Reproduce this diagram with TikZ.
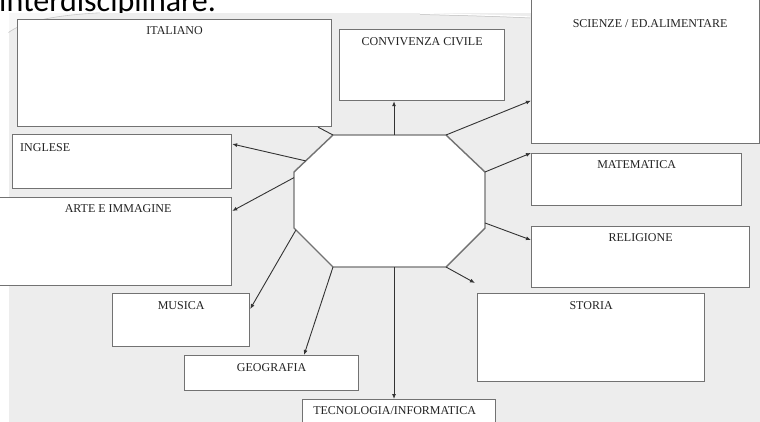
\documentclass[tikz,border=0pt]{standalone}
\usepackage{fontspec}
\setmainfont{Liberation Serif}
\newfontfamily\titlefont{Carlito}
\usetikzlibrary{arrows.meta,calc}
\definecolor{bg}{HTML}{EDEDED}
\definecolor{boxline}{HTML}{727272}
\definecolor{arrline}{HTML}{333333}
\definecolor{txt}{HTML}{222222}
\begin{document}
\begin{tikzpicture}[x=1pt,y=-1pt,
  box/.style={draw=boxline, line width=1.2pt, fill=white, rectangle, inner sep=0pt, anchor=north west},
  lbl/.style={anchor=base, text=txt, font=\fontsize{12}{14}\selectfont, inner sep=0pt},
  arr/.style={draw=arrline, line width=0.9pt, -{Latex[length=5pt,width=4pt]}},
  link/.style={draw=arrline, line width=0.9pt},
  octa/.style={draw=boxline, line width=1.4pt, fill=white, line join=miter}]
\useasboundingbox (0,0) rectangle (760,421);
\clip (0,0) rectangle (760,421);
% slide title (cut off at the top, as in the reference)
\node[anchor=base west, inner sep=0pt, font=\titlefont\fontsize{32}{36}\selectfont, text=black] (title) at (-1,11) {interdisciplinare.};
% grey slide area
\fill[bg] (8.5,12.5) rectangle (762,425);
\fill[white, opacity=0.6] (8.5,12.5) -- (100,12.5) .. controls (50,15) and (22,22) .. (8.5,32) -- cycle;
\draw[black!22, line width=0.6pt] (100,12.8) .. controls (50,15.5) and (22,22.5) .. (8.5,32.5);
\draw[white, line width=1.2pt] (420,13.5) .. controls (460,14.5) and (500,15.5) .. (530,17);
\draw[black!25, line width=0.5pt] (420,14.5) .. controls (460,15.5) and (500,16.5) .. (530,18);
% boxes
\node[box, minimum width=314pt, minimum height=107pt] (ita) at (17,19) {};
\node[box, minimum width=165pt, minimum height=71pt] (conv) at (339,29) {};
\node[box, minimum width=228pt, minimum height=148pt] (sci) at (531,-5) {};
\node[box, minimum width=219pt, minimum height=54pt] (ingl) at (12,134) {};
\node[box, minimum width=236pt, minimum height=88pt] (arte) at (-5,197) {};
\node[box, minimum width=137pt, minimum height=53pt] (mus) at (112,293) {};
\node[box, minimum width=174pt, minimum height=35pt] (geo) at (184,355) {};
\node[box, minimum width=193pt, minimum height=40pt] (tec) at (302,399) {};
\node[box, minimum width=210pt, minimum height=52pt] (mat) at (531,153) {};
\node[box, minimum width=218pt, minimum height=61pt] (rel) at (531,226) {};
\node[box, minimum width=227pt, minimum height=88pt] (sto) at (477,293) {};
% labels
\node[lbl] at ([yshift=-15pt]ita.north) {ITALIANO};
\node[lbl] at ([yshift=-16pt]conv.north) {CONVIVENZA CIVILE};
\node[lbl] at ([xshift=4.5pt,yshift=-32.5pt]sci.north) {SCIENZE / ED.ALIMENTARE};
\node[lbl, anchor=base west] at ([xshift=8pt,yshift=-17pt]ingl.north west) {INGLESE};
\node[lbl] at ([xshift=4.5pt,yshift=-15.5pt]arte.north) {ARTE E IMMAGINE};
\node[lbl] at ([yshift=-16.5pt]mus.north) {MUSICA};
\node[lbl] at ([yshift=-16pt]geo.north) {GEOGRAFIA};
\node[lbl] at ([xshift=-4.5pt,yshift=-15pt]tec.north) {TECNOLOGIA/INFORMATICA};
\node[lbl] at ([yshift=-15pt]mat.north) {MATEMATICA};
\node[lbl] at ([yshift=-15pt]rel.north) {RELIGIONE};
\node[lbl] at ([yshift=-16pt]sto.north) {STORIA};
% central octagon
\draw[octa] (333,135) coordinate (o1) -- (446,135) coordinate (o2) -- (485,172) coordinate (o3)
  -- (485,228) coordinate (o4) -- (446,267) coordinate (o5) -- (333,267) coordinate (o6)
  -- (294,228) coordinate (o7) -- (294,172) coordinate (o8) -- cycle;
% connector start points on the octagon
\coordinate (s1) at ($(o1)!0.54!(o2)$);
\coordinate (s4) at ($(o8)!0.3!(o1)$);
\coordinate (s5) at ($(o8)!0.1!(o7)$);
\coordinate (s6) at ($(o7)!0.05!(o6)$);
\coordinate (s8) at ($(o6)!0.54!(o5)$);
\coordinate (s10) at ($(o3)!0.91!(o4)$);
\coordinate (e11) at (475,283);
% connectors
\draw[arr] (s1) -- (s1 |- conv.south);
\draw[arr] (o2) -- ([yshift=-31pt]sci.west);
\draw[link] (o1) -- ([xshift=-14pt]ita.south east);
\draw[arr] (s4) -- ([yshift=-10pt]ingl.north east);
\draw[arr] (s5) -- ([yshift=-14pt]arte.north east);
\draw[arr] (s6) -- ([yshift=-16pt]mus.north east);
\draw[arr] (o6) -- ([xshift=120pt]geo.north west);
\draw[arr] (s8) -- (s8 |- tec.north);
\draw[arr] (o3) -- (mat.north west);
\draw[arr] (s10) -- ([yshift=-14pt]rel.north west);
\draw[arr] (o5) -- (e11);
\end{tikzpicture}
\end{document}
